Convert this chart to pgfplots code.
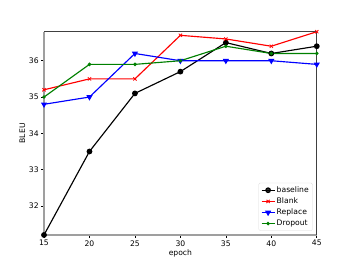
\documentclass[border=0pt]{standalone}
\usepackage{fontspec}
\setmainfont{DejaVu Sans}
\usepackage{pgfplots}
\pgfplotsset{compat=1.18}
\definecolor{mgreen}{rgb}{0,0.5,0}
\begin{document}
\begin{tikzpicture}
\path (-57.6pt,-38.0pt) rectangle (403.2pt,307.6pt);
\begin{axis}[
  at={(0,0)}, anchor=south west, scale only axis,
  width=357.1pt, height=266.1pt,
  xmin=15, xmax=45, ymin=31.2, ymax=36.8,
  xtick={15,20,25,30,35,40,45},
  ytick={32,33,34,35,36},
  tick align=outside, tick pos=left,
  major tick length=3.5pt,
  every tick/.style={black, line width=0.8pt},
  axis line style={draw=none},
  /pgf/number format/assume math mode=true,
  tick label style={font=\fontsize{10}{12}\selectfont},
  label style={font=\fontsize{10}{12}\selectfont},
  xlabel={epoch}, ylabel={BLEU},
  xlabel style={yshift=2pt},
  ylabel style={yshift=-2pt},
  legend style={at={(0.985,0.02)}, anchor=south east, font=\fontsize{10}{12}\selectfont, draw=black!15, rounded corners=2pt, fill=white, fill opacity=0.8, text opacity=1, inner sep=3pt, row sep=1.5pt},
  legend cell align=left,
  legend image post style={line width=1.5pt},
  every axis plot/.append style={line width=1.5pt},
  clip=false,
]
\addplot[black, mark=*, mark size=3pt] coordinates {(15,31.2) (20,33.5) (25,35.1) (30,35.7) (35,36.5) (40,36.2) (45,36.4)};
\addlegendentry{baseline}
\addplot[red, mark=x, mark size=3pt, mark options={line width=1pt}] coordinates {(15,35.2) (20,35.5) (25,35.5) (30,36.7) (35,36.6) (40,36.4) (45,36.8)};
\addlegendentry{Blank}
\addplot[blue, mark=triangle*, mark size=3.2pt, mark options={rotate=180}] coordinates {(15,34.8) (20,35.0) (25,36.2) (30,36.0) (35,36.0) (40,36.0) (45,35.9)};
\addlegendentry{Replace}
\addplot[mgreen, mark=*, mark size=1.5pt] coordinates {(15,35.0) (20,35.9) (25,35.9) (30,36.0) (35,36.4) (40,36.2) (45,36.2)};
\addlegendentry{Dropout}
\draw[gray!75, line width=2.4pt] (rel axis cs:0,1) -- (rel axis cs:0,0) -- (rel axis cs:1,0);
\draw[black!75, line width=0.8pt] (rel axis cs:0,1) -- (rel axis cs:1,1) -- (rel axis cs:1,0);
\end{axis}
\end{tikzpicture}
\end{document}
